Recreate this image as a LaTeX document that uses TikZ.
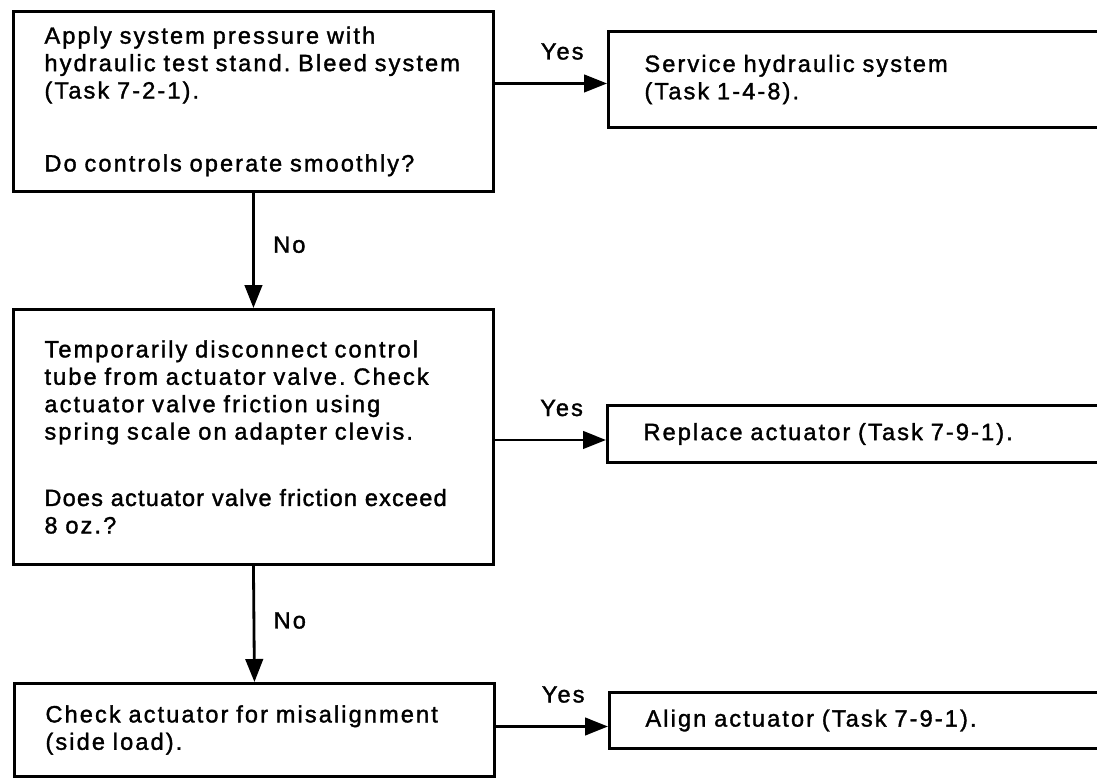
\documentclass[tikz,border=0pt]{standalone}
\usepackage{fontspec}
\setmainfont{Liberation Sans}[LetterSpace=9, FakeBold=1.5]
\usetikzlibrary{arrows.meta}
\frenchspacing

\tikzset{
  box/.style={draw, line width=1.7pt, anchor=north west, align=left,
    font=\fontsize{13.4}{15.6}\selectfont, inner xsep=0.62cm},
  leftbox/.style={box, text width=8.36cm},
  rightbox/.style={box, text width=9cm, inner xsep=0.72cm},
  flow/.style={line width=1.6pt, -{Triangle[length=0.46cm,width=0.35cm]}},
  answer/.style={font=\fontsize{13.4}{15.6}\selectfont}
}

\begin{document}
\begin{tikzpicture}[x=0.02cm, y=-0.02cm]
  \useasboundingbox (0,0) rectangle (1097,777);
  \clip (0,0) rectangle (1097,777);

  % first check
  \node[leftbox, minimum height=3.6cm] (pressure) at (12,10)
    {Apply system pressure with\\ hydraulic test stand. Bleed system\\ (Task 7-2-1).\\[0.91cm] Do controls operate smoothly?};
  \node[rightbox, minimum height=1.92cm] (service) at (607,30)
    {Service hydraulic system\\ (Task 1-4-8).};

  % second check
  \node[leftbox, minimum height=5.1cm] (friction) at (12,308)
    {Temporarily disconnect control\\ tube from actuator valve. Check\\ actuator valve friction using\\ spring scale on adapter clevis.\\[0.78cm] {\addfontfeature{LetterSpace=5}Does actuator valve friction exceed}\\ 8 oz.?};
  \node[rightbox, minimum height=1.14cm] (replace) at (606,404)
    {Replace actuator (Task 7-9-1).};

  % third check
  \node[leftbox, minimum height=1.86cm] (misalign) at (13,682)
    {Check actuator for misalignment\\ (side load).};
  \node[rightbox, minimum height=1.12cm] (align) at (608,691)
    {Align actuator (Task 7-9-1).};

  % yes branches
  \draw[flow] ([yshift=-0.08cm]service.west -| pressure.east) -- node[answer, above=0.33cm, pos=0.6] {Yes} ([yshift=-0.08cm]service.west);
  \draw[flow] ([yshift=-0.12cm]replace.west -| friction.east) -- node[answer, above=0.33cm, pos=0.6] {Yes} ([yshift=-0.12cm]replace.west);
  \draw[flow] ([yshift=-0.12cm]align.west -| misalign.east) -- node[answer, above=0.33cm, pos=0.6] {Yes} ([yshift=-0.12cm]align.west);

  % no branches
  \draw[flow] (pressure.south) -- node[answer, right=0.25cm, pos=0.45] {No} (friction.north);
  \draw[flow] (friction.south) -- node[answer, right=0.25cm, pos=0.47] {No} (misalign.north);
\end{tikzpicture}
\end{document}
